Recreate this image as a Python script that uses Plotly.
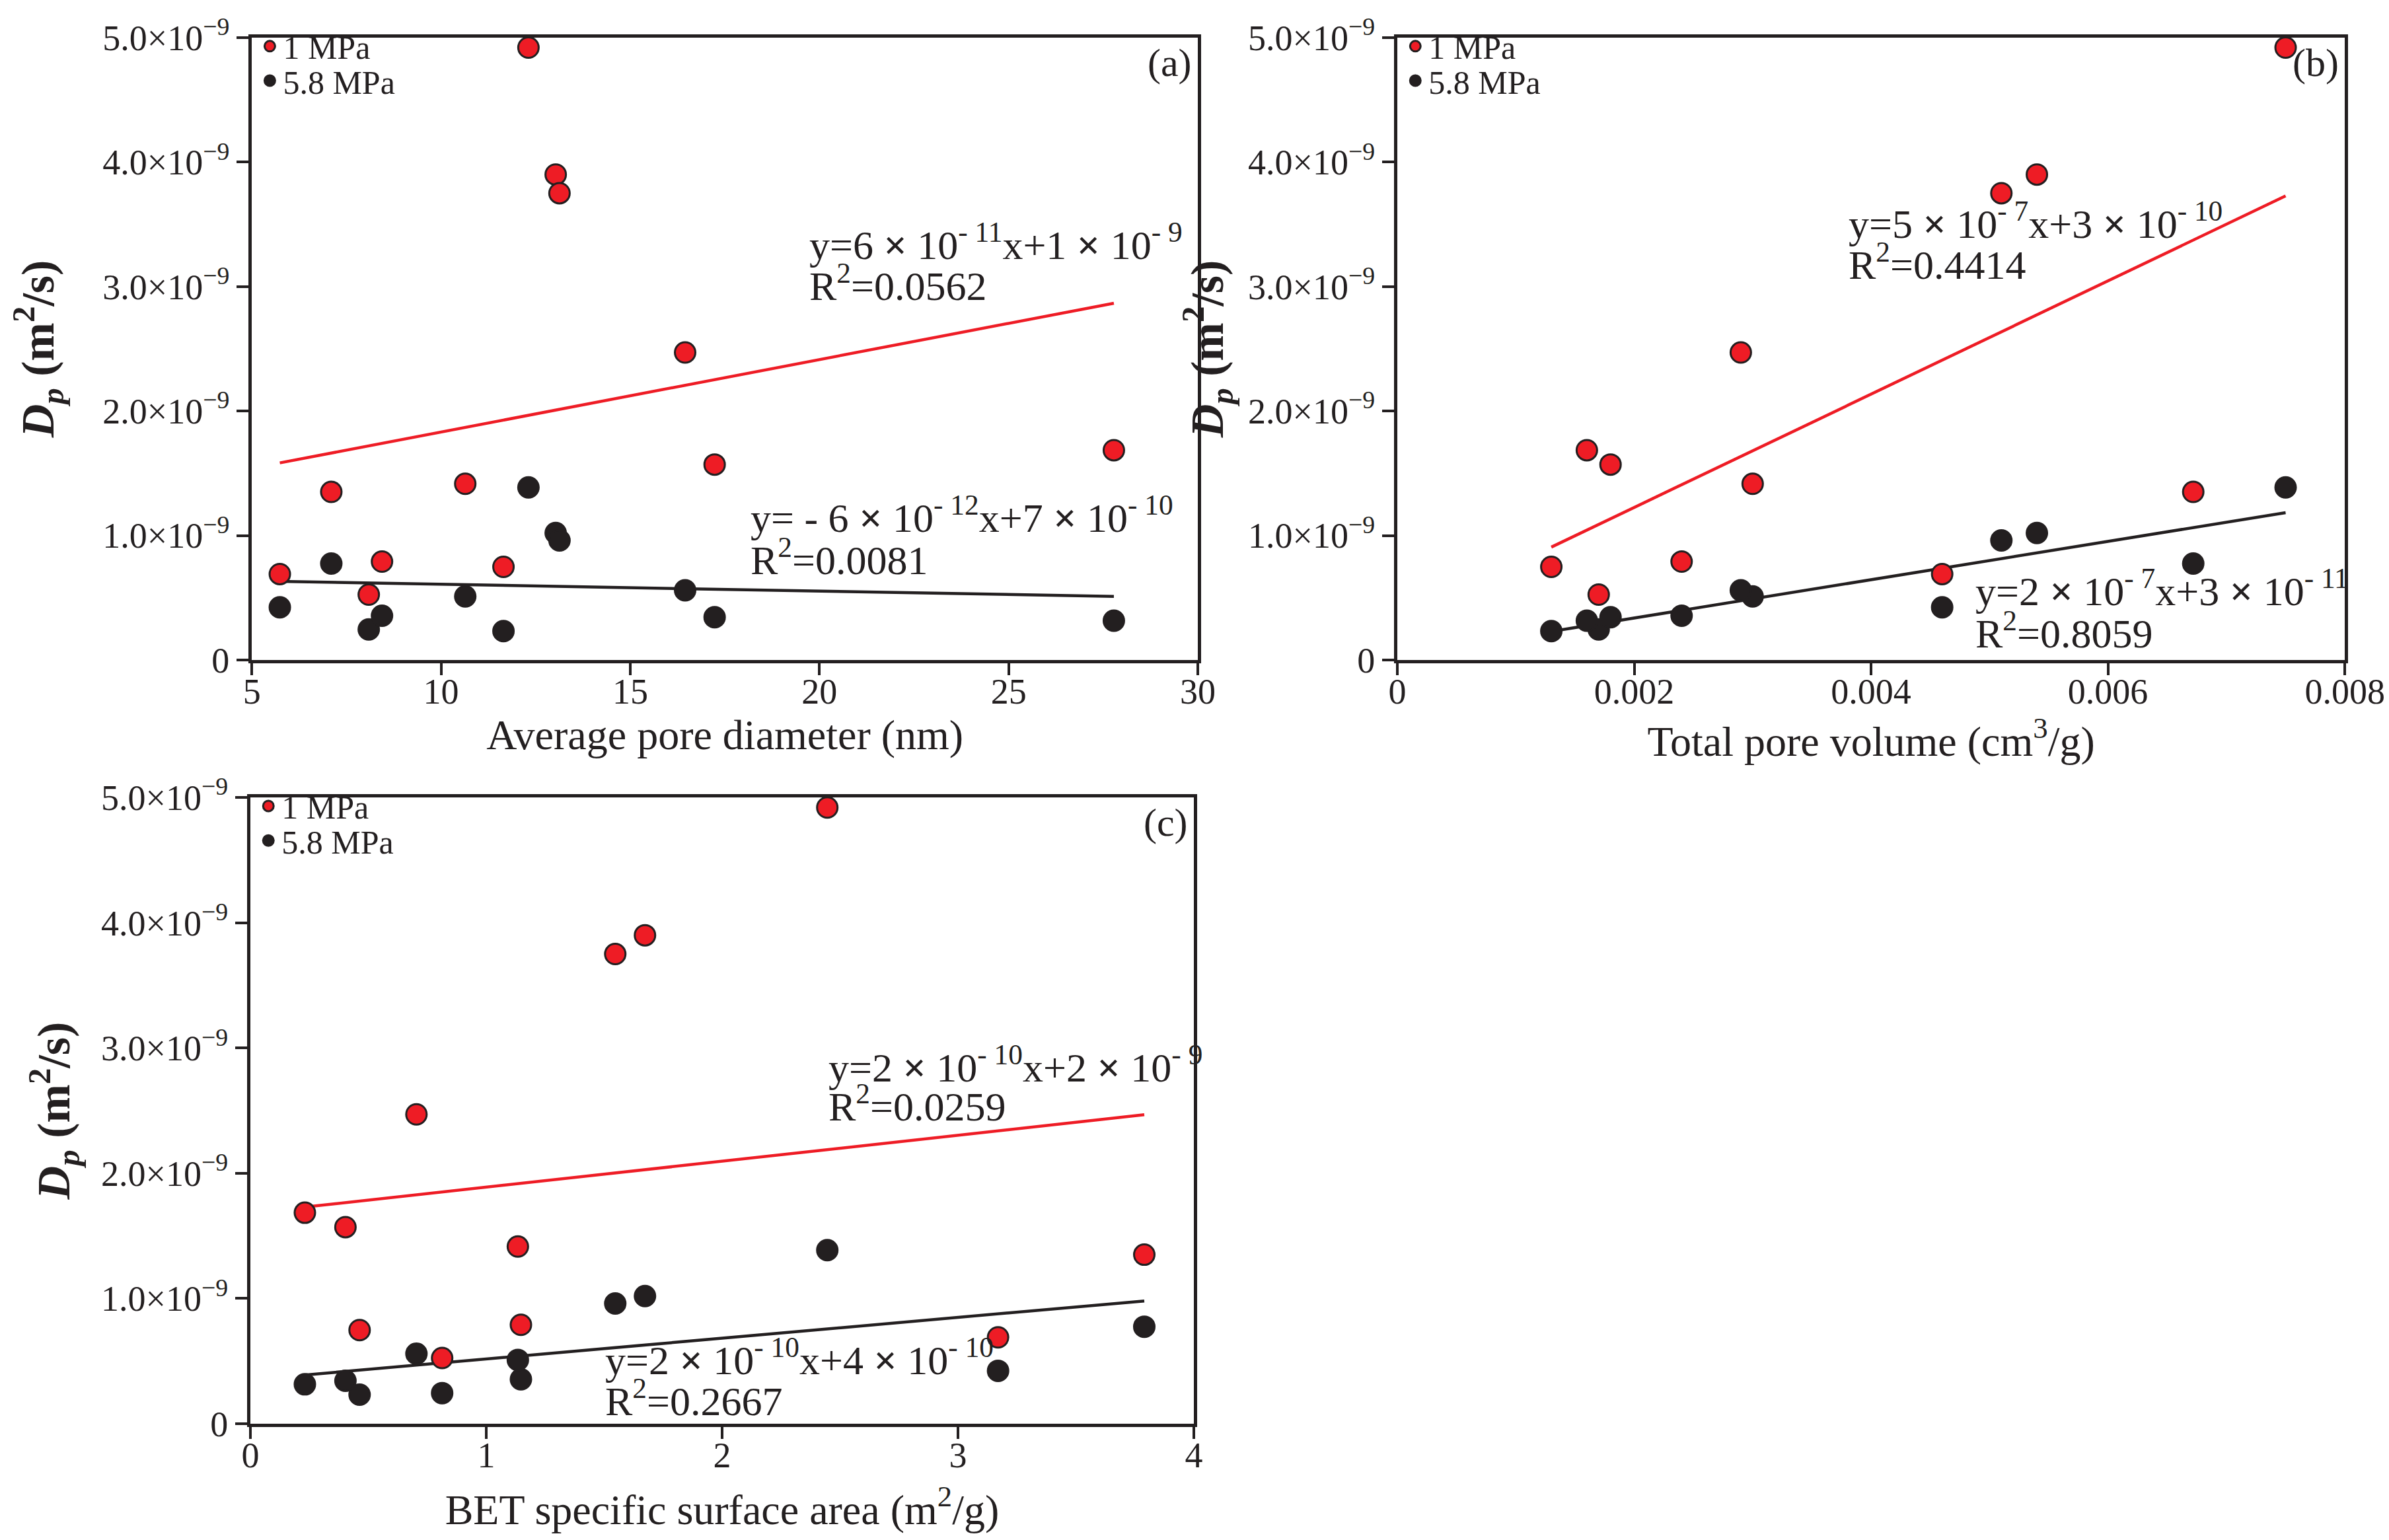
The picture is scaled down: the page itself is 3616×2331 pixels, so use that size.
import numpy as np
import plotly.graph_objects as go

# 12 samples, same order in every panel
pore_diameter = [5.74, 7.10, 8.09, 8.44, 10.64, 11.65, 12.31, 13.03, 13.13, 16.45, 17.23, 27.78]      # nm
pore_volume = [0.00460, 0.00672, 0.00170, 0.00240, 0.00300, 0.00130,
               0.00750, 0.00540, 0.00510, 0.00290, 0.00180, 0.00160]                               # cm3/g
bet_area = [3.17, 3.79, 0.813, 1.147, 1.134, 0.463, 2.446, 1.673, 1.547, 0.704, 0.403, 0.231]      # m2/g
dp_1mpa = [0.69e-9, 1.35e-9, 0.525e-9, 0.79e-9, 1.415e-9, 0.748e-9,
           4.92e-9, 3.90e-9, 3.75e-9, 2.47e-9, 1.57e-9, 1.685e-9]
dp_58mpa = [0.423e-9, 0.775e-9, 0.245e-9, 0.355e-9, 0.51e-9, 0.232e-9,
            1.386e-9, 1.02e-9, 0.96e-9, 0.56e-9, 0.343e-9, 0.315e-9]

series_names = ["1 MPa", "5.8 MPa"]
panel_tags = ["(a)", "(b)", "(c)"]
x_titles = ["Average pore diameter (nm)",
            "Total pore volume (cm<sup>3</sup>/g)",
            "BET specific surface area (m<sup>2</sup>/g)"]
y_title = "<b><i>D</i><sub><i>p</i></sub> (m<sup>2</sup>/s)</b>"
y_tickvals = [0, 1e-9, 2e-9, 3e-9, 4e-9, 5e-9]
y_ticktext = ["0", "1.0×10<sup>−9</sup>", "2.0×10<sup>−9</sup>", "3.0×10<sup>−9</sup>",
              "4.0×10<sup>−9</sup>", "5.0×10<sup>−9</sup>"]
x_ranges = [[5, 30], [0, 0.008], [0, 4]]
x_tickvals = [[5, 10, 15, 20, 25, 30], [0, 0.002, 0.004, 0.006, 0.008], [0, 1, 2, 3, 4]]
x_ticktext = [["5", "10", "15", "20", "25", "30"], ["0", "0.002", "0.004", "0.006", "0.008"],
              ["0", "1", "2", "3", "4"]]
# fit equations as printed on the figure: [red, black] per panel
X = " <b>×</b> "
fit_eqs = [["y=6" + X + "10<sup>- 11</sup>x+1" + X + "10<sup>- 9</sup>",
            "y= - 6" + X + "10<sup>- 12</sup>x+7" + X + "10<sup>- 10</sup>"],
           ["y=5" + X + "10<sup>- 7</sup>x+3" + X + "10<sup>- 10</sup>",
            "y=2" + X + "10<sup>- 7</sup>x+3" + X + "10<sup>- 11</sup>"],
           ["y=2" + X + "10<sup>- 10</sup>x+2" + X + "10<sup>- 9</sup>",
            "y=2" + X + "10<sup>- 10</sup>x+4" + X + "10<sup>- 10</sup>"]]
fit_r2 = [["0.0562", "0.0081"], ["0.4414", "0.8059"], ["0.0259", "0.2667"]]

RED = "#ee1c25"
INK = "#231f20"
FONT = "Liberation Serif"

xs = [pore_diameter, pore_volume, bet_area]
# paper-space boxes of the three panels: (x0, x1, y0, y1)
domains = [(0.1032, 0.4992, 0.5749, 0.9790),
           (0.5827, 0.9793, 0.5749, 0.9790),
           (0.1026, 0.4975, 0.0789, 0.4856)]
# text anchors (data coords): (left x, eq line centre y, r2 line centre y) for red, black
text_pos = [[(19.7, 3.36e-9, 3.03e-9), (18.15, 1.165e-9, 0.827e-9)],
            [(0.00380, 3.53e-9, 3.20e-9), (0.00487, 0.576e-9, 0.241e-9)],
            [(2.445, 2.87e-9, 2.556e-9), (1.498, 0.535e-9, 0.205e-9)]]
x_title_standoff = [14, 22, 32]
y_title_standoff = [62, 16, 26]
legend_drop = [0.0112, -0.0112]   # top of each one-item legend relative to the panel top

fig = go.Figure()
annotations = []
for p in range(3):
    sfx = "" if p == 0 else str(p + 1)
    xr, yr = "x" + sfx, "y" + sfx
    x0, x1, y0, y1 = domains[p]
    x = np.array(xs[p], dtype=float)
    for ys, lcol in [(dp_1mpa, RED), (dp_58mpa, INK)]:
        ys = np.array(ys)
        k, b = np.polyfit(x, ys, 1)
        xl = np.array([x.min(), x.max()])
        fig.add_trace(go.Scatter(x=xl, y=k * xl + b, mode="lines", line=dict(color=lcol, width=4.5),
                                 showlegend=False, hoverinfo="skip", xaxis=xr, yaxis=yr))
    for s, (ys, fill) in enumerate([(dp_1mpa, RED), (dp_58mpa, INK)]):
        n = 1 + 2 * p + s
        leg = "legend" if n == 1 else "legend%d" % n
        fig.add_trace(go.Scatter(x=x, y=ys, mode="markers", name=series_names[s],
                                 marker=dict(size=31, color=fill, line=dict(color=INK, width=3)),
                                 legend=leg, xaxis=xr, yaxis=yr))
        fig.layout[leg] = dict(x=x0 + 0.002, y=y1 + legend_drop[s], xanchor="left", yanchor="top",
                               bgcolor="rgba(0,0,0,0)", font=dict(family=FONT, size=50, color=INK),
                               itemsizing="trace")
    for s in range(2):
        tx, ty1, ty2 = text_pos[p][s]
        for txt, ty in [(fit_eqs[p][s], ty1), ("R<sup>2</sup>=" + fit_r2[p][s], ty2)]:
            annotations.append(dict(x=tx, y=ty, xref=xr, yref=yr, text=txt, showarrow=False,
                                    xanchor="left", yanchor="middle",
                                    font=dict(family=FONT, size=62, color=INK)))
    annotations.append(dict(x=0.995, y=0.96, xref=xr + " domain", yref=yr + " domain",
                            text=panel_tags[p], showarrow=False, xanchor="right", yanchor="middle",
                            font=dict(family=FONT, size=60, color=INK)))

    axis_common = dict(showline=True, linecolor=INK, linewidth=5, mirror=True, ticks="outside",
                       ticklen=18, tickwidth=4, tickcolor=INK, showgrid=False, zeroline=False,
                       automargin=False, tickfont=dict(family=FONT, size=54, color=INK))
    fig.layout["xaxis" + sfx] = dict(axis_common, domain=[x0, x1], range=x_ranges[p], anchor=yr,
                                     tickmode="array", tickvals=x_tickvals[p], ticktext=x_ticktext[p],
                                     ticklabelstandoff=-22,
                                     title=dict(text=x_titles[p], standoff=x_title_standoff[p],
                                                font=dict(family=FONT, size=64, color=INK)))
    fig.layout["yaxis" + sfx] = dict(axis_common, domain=[y0, y1], range=[0, 5e-9], anchor=xr,
                                     tickmode="array", tickvals=y_tickvals, ticktext=y_ticktext,
                                     title=dict(text=y_title, standoff=y_title_standoff[p],
                                                font=dict(family=FONT, size=70, color=INK)))

fig.update_layout(width=3616, height=2331, margin=dict(l=0, r=0, t=0, b=0),
                  paper_bgcolor="white", plot_bgcolor="white", annotations=annotations,
                  showlegend=True)
fig.write_html("out.html")
